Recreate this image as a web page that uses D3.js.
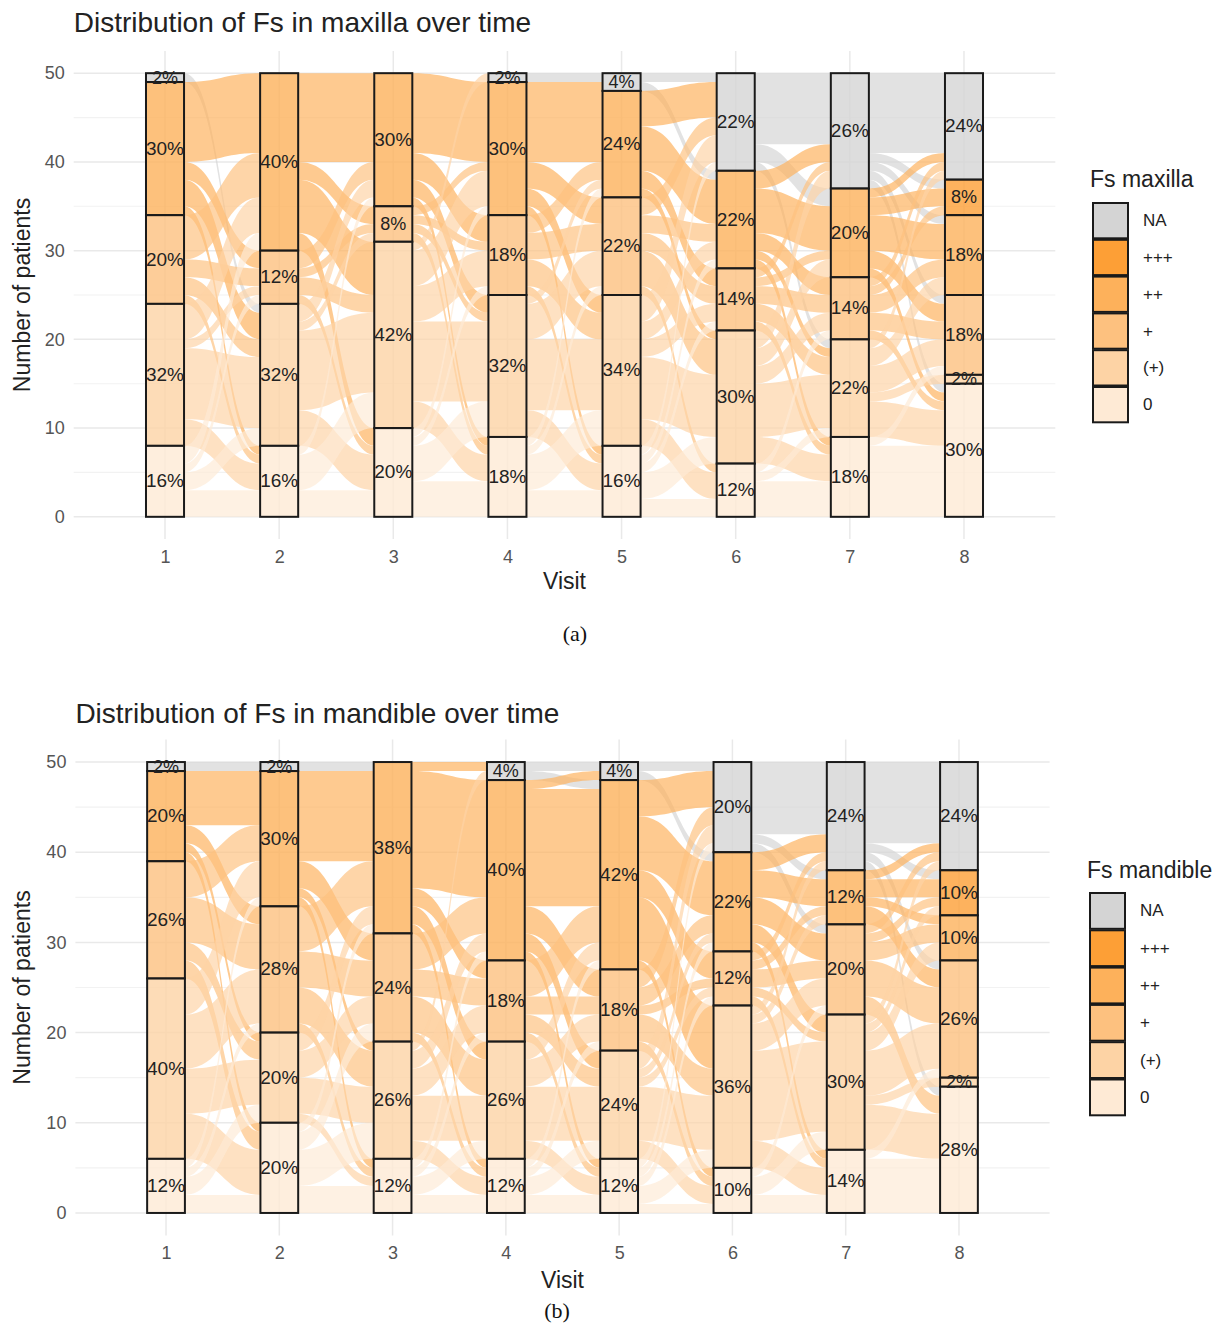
<!DOCTYPE html>
<html>
<head>
<meta charset="utf-8">
<script src="https://cdnjs.cloudflare.com/ajax/libs/d3/7.8.5/d3.min.js"></script>
<style>
  body { margin: 0; background: #fff; }
  svg { display: block; font-family: "Liberation Sans", Arial, sans-serif; }
</style>
</head>
<body>
<script>
// categories from top of each bar to bottom
var categories = ["NA", "+++", "++", "+", "(+)", "0"];
var visits = [1, 2, 3, 4, 5, 6, 7, 8];
var yTicks = [0, 10, 20, 30, 40, 50];
var nPatients = 50;

// percent of patients in each category, one row per visit
var maxillaPct = [
  [2, 0, 30, 20, 32, 16],
  [0, 0, 40, 12, 32, 16],
  [0, 0, 30, 8, 42, 20],
  [2, 0, 30, 18, 32, 18],
  [4, 0, 24, 22, 34, 16],
  [22, 0, 22, 14, 30, 12],
  [26, 0, 20, 14, 22, 18],
  [24, 8, 18, 18, 2, 30]
];
var mandiblePct = [
  [2, 0, 20, 26, 40, 12],
  [2, 0, 30, 28, 20, 20],
  [0, 0, 38, 24, 26, 12],
  [4, 0, 40, 18, 26, 12],
  [4, 0, 42, 18, 24, 12],
  [20, 0, 22, 12, 36, 10],
  [24, 0, 12, 20, 30, 14],
  [24, 10, 10, 26, 2, 28]
];

// patients moving between consecutive visits: [from, to, n]
var maxillaFlows = [
  [["NA","(+)",1],["++","++",9],["++","+",2],["++","(+)",3],["++","0",1],
   ["+","++",5],["+","+",2],["+","(+)",2],["+","0",1],
   ["(+)","++",4],["(+)","+",1],["(+)","(+)",8],["(+)","0",3],
   ["0","++",2],["0","+",1],["0","(+)",2],["0","0",3]],
  [["++","++",10],["++","+",2],["++","(+)",6],["++","0",2],
   ["+","++",2],["+","+",1],["+","(+)",2],["+","0",1],
   ["(+)","++",2],["(+)","+",1],["(+)","(+)",9],["(+)","0",4],
   ["0","++",1],["0","(+)",4],["0","0",3]],
  [["++","++",9],["++","+",3],["++","(+)",2],["++","0",1],
   ["+","++",1],["+","+",1],["+","(+)",1],["+","0",1],
   ["(+)","NA",1],["(+)","++",4],["(+)","+",4],["(+)","(+)",9],["(+)","0",3],
   ["0","++",1],["0","+",1],["0","(+)",4],["0","0",4]],
  [["NA","NA",1],
   ["++","NA",1],["++","++",8],["++","+",3],["++","(+)",2],["++","0",1],
   ["+","++",2],["+","+",3],["+","(+)",3],["+","0",1],
   ["(+)","++",1],["(+)","+",4],["(+)","(+)",8],["(+)","0",3],
   ["0","++",1],["0","+",1],["0","(+)",4],["0","0",3]],
  [["NA","NA",1],["NA","++",1],
   ["++","NA",4],["++","++",5],["++","+",2],["++","(+)",1],
   ["+","NA",2],["+","++",2],["+","+",2],["+","(+)",4],["+","0",1],
   ["(+)","NA",3],["(+)","++",2],["(+)","+",2],["(+)","(+)",7],["(+)","0",3],
   ["0","NA",1],["0","++",1],["0","+",1],["0","(+)",3],["0","0",2]],
  [["NA","NA",8],["NA","++",2],["NA","(+)",1],
   ["++","NA",2],["++","++",5],["++","+",2],["++","(+)",1],["++","0",1],
   ["+","NA",1],["+","++",1],["+","+",2],["+","(+)",2],["+","0",1],
   ["(+)","NA",2],["(+)","++",2],["(+)","+",2],["(+)","(+)",6],["(+)","0",3],
   ["0","+",1],["0","(+)",1],["0","0",4]],
  [["NA","NA",9],["NA","+++",1],["NA","++",1],["NA","+",1],["NA","0",1],
   ["++","NA",1],["++","+++",2],["++","++",4],["++","+",2],["++","0",1],
   ["+","NA",1],["+","+++",1],["+","++",2],["+","+",2],["+","0",1],
   ["(+)","NA",1],["(+)","++",2],["(+)","+",3],["(+)","(+)",1],["(+)","0",4],
   ["0","+",1],["0","0",8]]
];
var mandibleFlows = [
  [["NA","NA",1],
   ["++","++",6],["++","+",2],["++","(+)",1],["++","0",1],
   ["+","++",4],["+","+",5],["+","(+)",2],["+","0",2],
   ["(+)","++",4],["(+)","+",6],["(+)","(+)",5],["(+)","0",5],
   ["0","++",1],["0","+",1],["0","(+)",2],["0","0",2]],
  [["NA","++",1],
   ["++","++",10],["++","+",3],["++","(+)",1],["++","0",1],
   ["+","++",5],["+","+",4],["+","(+)",4],["+","0",1],
   ["(+)","++",2],["(+)","+",3],["(+)","(+)",4],["(+)","0",1],
   ["0","++",1],["0","+",2],["0","(+)",4],["0","0",3]],
  [["++","NA",1],["++","++",13],["++","+",2],["++","(+)",2],["++","0",1],
   ["+","++",4],["+","+",3],["+","(+)",4],["+","0",1],
   ["(+)","NA",1],["(+)","++",2],["(+)","+",3],["(+)","(+)",5],["(+)","0",2],
   ["0","++",1],["0","+",1],["0","(+)",2],["0","0",2]],
  [["NA","NA",1],["NA","++",1],
   ["++","NA",1],["++","++",13],["++","+",3],["++","(+)",2],["++","0",1],
   ["+","++",4],["+","+",2],["+","(+)",2],["+","0",1],
   ["(+)","++",2],["(+)","+",3],["(+)","(+)",6],["(+)","0",2],
   ["0","++",1],["0","+",1],["0","(+)",2],["0","0",2]],
  [["NA","NA",1],["NA","++",1],
   ["++","NA",4],["++","++",6],["++","+",3],["++","(+)",7],["++","0",1],
   ["+","NA",2],["+","++",2],["+","+",1],["+","(+)",3],["+","0",1],
   ["(+)","NA",2],["(+)","++",1],["(+)","+",1],["(+)","(+)",6],["(+)","0",2],
   ["0","NA",1],["0","++",1],["0","+",1],["0","(+)",2],["0","0",1]],
  [["NA","NA",8],["NA","++",1],["NA","+",1],
   ["++","NA",2],["++","++",3],["++","+",3],["++","(+)",2],["++","0",1],
   ["+","NA",1],["+","++",1],["+","+",2],["+","(+)",1],["+","0",1],
   ["(+)","NA",1],["(+)","++",1],["(+)","+",3],["(+)","(+)",10],["(+)","0",3],
   ["0","+",1],["0","(+)",2],["0","0",2]],
  [["NA","NA",9],["NA","+++",1],["NA","+",1],["NA","0",1],
   ["++","NA",1],["++","+++",2],["++","++",1],["++","+",2],
   ["+","NA",1],["+","+++",1],["+","++",2],["+","+",4],["+","0",2],
   ["(+)","NA",1],["(+)","+++",1],["(+)","++",2],["(+)","+",5],["(+)","(+)",1],["(+)","0",5],
   ["0","+",1],["0","0",6]]
];

var colors = ["#d4d4d4", "#fd9f36", "#fdb15b", "#fdc17f", "#fdd3a5", "#feead5"];

var width = 1228, height = 1326;

var panels = [
  {title: "Distribution of Fs in maxilla over time", legend: "Fs maxilla", caption: "(a)",
   pct: maxillaPct, flows: maxillaFlows,
   left: 73.7, right: 1055.3, top: 51, bottom: 539,
   titleY: 22, visitY: 581, capX: 575, capY: 633,
   legX: 1093, legTitleX: 1090, legTitleY: 179, keyTop: 203, keyStep: 36.8},
  {title: "Distribution of Fs in mandible over time", legend: "Fs mandible", caption: "(b)",
   pct: mandiblePct, flows: mandibleFlows,
   left: 75.4, right: 1049.6, top: 739.5, bottom: 1235.5,
   titleY: 713, visitY: 1280, capX: 557, capY: 1310,
   legX: 1090, legTitleX: 1087, legTitleY: 870, keyTop: 893, keyStep: 37.3}
];

var svg = d3.select("body").append("svg")
    .attr("width", width)
    .attr("height", height);

var stratumTops = function(row){
    var acc = nPatients;
    return row.map(function(p){
        var t = acc;
        acc -= p * nPatients / 100;
        return t;
    });
};

var drawPanel = function(p){
    var g = svg.append("g");
    var x = d3.scaleLinear().domain([0.2, 8.8]).range([p.left, p.right]);
    var y = d3.scaleLinear().domain([-2.5, 52.5]).range([p.bottom, p.top]);
    var bw = x(1 + 1/3) - x(1);

    // grid
    var minor = d3.range(5, 50, 10);
    g.selectAll(".minor").data(minor).enter().append("line")
        .attr("x1", p.left).attr("x2", p.right)
        .attr("y1", function(d){ return y(d); }).attr("y2", function(d){ return y(d); })
        .attr("stroke", "#f2f2f2").attr("stroke-width", 1.2);
    g.selectAll(".major").data(yTicks).enter().append("line")
        .attr("x1", p.left).attr("x2", p.right)
        .attr("y1", function(d){ return y(d); }).attr("y2", function(d){ return y(d); })
        .attr("stroke", "#e9e9e9").attr("stroke-width", 1.5);
    g.selectAll(".vgrid").data(visits).enter().append("line")
        .attr("x1", function(d){ return x(d); }).attr("x2", function(d){ return x(d); })
        .attr("y1", p.top).attr("y2", p.bottom)
        .attr("stroke", "#e9e9e9").attr("stroke-width", 1.5);

    // flows
    var fg = g.append("g");
    p.flows.forEach(function(list, t){
        var items = list.map(function(f){
            return {s: categories.indexOf(f[0]), d: categories.indexOf(f[1]), n: f[2]};
        });
        var outAcc = stratumTops(p.pct[t]), inAcc = stratumTops(p.pct[t + 1]);
        items.slice().sort(function(a, b){ return a.s - b.s || a.d - b.d; })
            .forEach(function(f){ f.y0 = outAcc[f.s]; outAcc[f.s] -= f.n; });
        items.slice().sort(function(a, b){ return a.d - b.d || a.s - b.s; })
            .forEach(function(f){ f.y1 = inAcc[f.d]; inAcc[f.d] -= f.n; });
        var x0 = x(visits[t]) + bw / 2, x1 = x(visits[t + 1]) - bw / 2, xm = (x0 + x1) / 2;
        fg.selectAll(null).data(items).enter().append("path")
            .attr("d", function(f){
                var a = y(f.y0), b = y(f.y0 - f.n), c = y(f.y1), e = y(f.y1 - f.n);
                return "M" + x0 + "," + a + "C" + xm + "," + a + " " + xm + "," + c + " " + x1 + "," + c +
                       "L" + x1 + "," + e + "C" + xm + "," + e + " " + xm + "," + b + " " + x0 + "," + b + "Z";
            })
            .attr("fill", function(f){ return colors[f.s]; })
            .attr("fill-opacity", 0.68);
    });

    // strata
    p.pct.forEach(function(row, v){
        var tops = stratumTops(row);
        var cells = row.map(function(pc, c){ return {c: c, pct: pc, top: tops[c], n: pc * nPatients / 100}; })
            .filter(function(d){ return d.n > 0; });
        var sg = g.append("g");
        sg.selectAll("rect").data(cells).enter().append("rect")
            .attr("x", x(visits[v]) - bw / 2).attr("width", bw)
            .attr("y", function(d){ return y(d.top); })
            .attr("height", function(d){ return y(d.top - d.n) - y(d.top); })
            .attr("fill", function(d){ return colors[d.c]; })
            .attr("fill-opacity", 0.8)
            .attr("stroke", "#1a1a1a").attr("stroke-width", 2);
        sg.selectAll("text").data(cells).enter().append("text")
            .attr("x", x(visits[v]))
            .attr("y", function(d){ return y(d.top - d.n / 2); })
            .attr("text-anchor", "middle").attr("dominant-baseline", "central")
            .attr("font-size", 18).attr("fill", "#222")
            .attr("textLength", function(d){ return d.pct < 10 ? null : 38; })
            .attr("lengthAdjust", "spacingAndGlyphs")
            .text(function(d){ return d.pct + "%"; });
    });

    // axes
    var ya = g.append("g").attr("transform", "translate(" + p.left + ",0)")
        .call(d3.axisLeft(y).tickValues(yTicks).tickSize(0).tickPadding(9));
    var xa = g.append("g").attr("transform", "translate(0," + p.bottom + ")")
        .call(d3.axisBottom(x).tickValues(visits).tickSize(0).tickPadding(11));
    [ya, xa].forEach(function(a){
        a.select(".domain").remove();
        a.selectAll("text").attr("font-size", 18).attr("fill", "#555")
            .attr("font-family", "Liberation Sans, Arial, sans-serif");
    });

    g.append("text").attr("x", p.left).attr("y", p.titleY)
        .attr("dominant-baseline", "central").attr("font-size", 28).attr("fill", "#222")
        .text(p.title);
    g.append("text")
        .attr("transform", "translate(22," + ((p.top + p.bottom) / 2) + ") rotate(-90)")
        .attr("text-anchor", "middle").attr("dominant-baseline", "central")
        .attr("font-size", 23).attr("fill", "#222")
        .text("Number of patients");
    g.append("text").attr("x", (p.left + p.right) / 2).attr("y", p.visitY)
        .attr("text-anchor", "middle").attr("dominant-baseline", "central")
        .attr("font-size", 23).attr("fill", "#222")
        .text("Visit");
    g.append("text").attr("x", p.capX).attr("y", p.capY)
        .attr("text-anchor", "middle").attr("dominant-baseline", "central")
        .attr("font-size", 22).attr("font-family", "Liberation Serif, Times New Roman, serif")
        .attr("fill", "#111")
        .text(p.caption);

    // legend
    var lg = g.append("g");
    lg.append("text").attr("x", p.legTitleX).attr("y", p.legTitleY)
        .attr("dominant-baseline", "central").attr("font-size", 23).attr("fill", "#222")
        .text(p.legend);
    var keys = lg.selectAll(".key").data(categories).enter().append("g")
        .attr("transform", function(d, i){ return "translate(" + p.legX + "," + (p.keyTop + i * p.keyStep) + ")"; });
    keys.append("rect").attr("width", 35).attr("height", p.keyStep - 1.5)
        .attr("fill", function(d, i){ return colors[i]; })
        .attr("stroke", "#1a1a1a").attr("stroke-width", 2);
    keys.append("text").attr("x", 50).attr("y", (p.keyStep - 1.5) / 2)
        .attr("dominant-baseline", "central").attr("font-size", 17).attr("fill", "#222")
        .text(function(d){ return d; });
};

panels.forEach(drawPanel);
</script>
</body>
</html>
